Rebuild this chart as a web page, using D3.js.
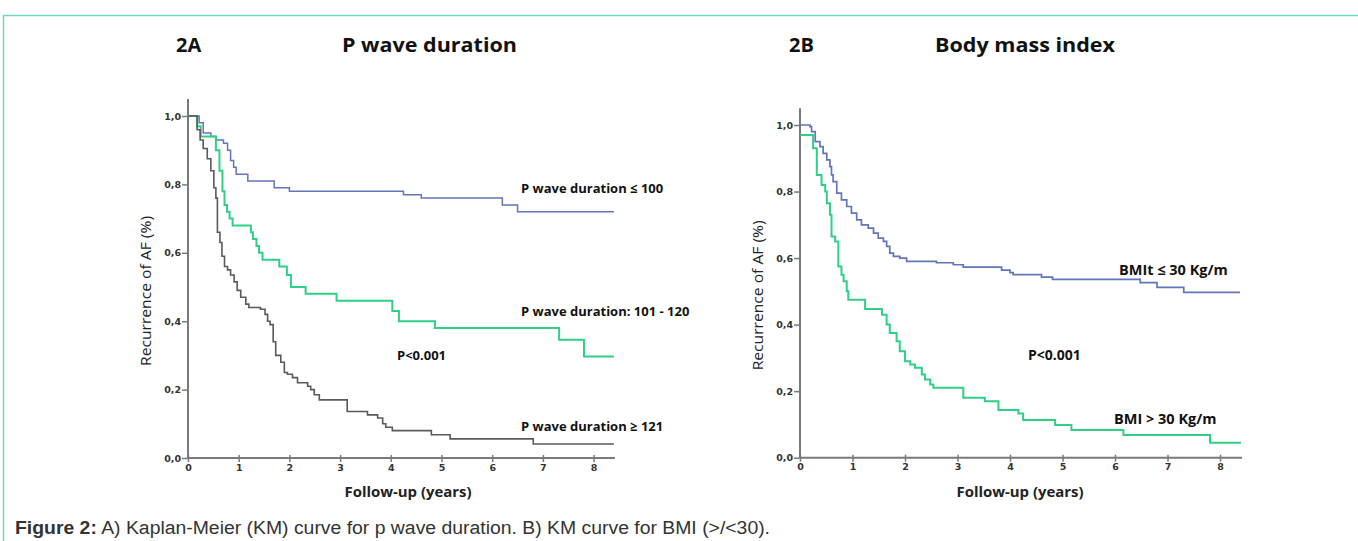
<!DOCTYPE html>
<html><head><meta charset="utf-8">
<script src="https://cdn.jsdelivr.net/npm/d3@7"></script>
<style>body{margin:0;background:#fff}svg{display:block}</style>
</head><body>
<svg id="c" width="1358" height="541"></svg>
<script>
// ---- Data ----
const yTicks = [0, 0.2, 0.4, 0.6, 0.8, 1.0];
const xTicks = [0, 1, 2, 3, 4, 5, 6, 7, 8];

// Panel A: P wave duration <= 100
const pShortT = [0, 0.22, 0.3, 0.45, 0.55, 0.7, 0.78, 0.84, 0.9, 0.95, 1.18, 1.7, 2.0, 4.25, 4.6, 6.2, 6.5, 8.4];
const pShortS = [1.0, 0.98, 0.95, 0.94, 0.93, 0.92, 0.90, 0.87, 0.85, 0.83, 0.81, 0.79, 0.78, 0.77, 0.76, 0.74, 0.72, 0.72];
// Panel A: P wave duration 101 - 120
const pMidT = [0, 0.18, 0.25, 0.55, 0.62, 0.68, 0.72, 0.77, 0.82, 0.88, 1.24, 1.28, 1.35, 1.4, 1.47, 1.8, 1.95, 2.03, 2.32, 2.93, 4.03, 4.16, 4.87, 7.32, 7.81, 8.4];
const pMidS = [1.0, 0.97, 0.94, 0.90, 0.84, 0.78, 0.74, 0.72, 0.70, 0.68, 0.66, 0.64, 0.62, 0.60, 0.58, 0.56, 0.535, 0.50, 0.48, 0.46, 0.43, 0.40, 0.38, 0.346, 0.297, 0.297];
// Panel A: P wave duration >= 121
const pLongT = [0, 0.18, 0.24, 0.3, 0.38, 0.45, 0.51, 0.55, 0.58, 0.63, 0.67, 0.72, 0.78, 0.84, 0.91, 0.97, 1.04, 1.14, 1.2, 1.43, 1.52, 1.57, 1.62, 1.68, 1.73, 1.83, 1.9, 1.96, 2.06, 2.16, 2.36, 2.42, 2.49, 2.59, 3.14, 3.54, 3.74, 3.84, 3.9, 4.03, 4.8, 5.17, 6.81, 8.4];
const pLongS = [1.0, 0.96, 0.93, 0.905, 0.875, 0.84, 0.79, 0.76, 0.66, 0.63, 0.59, 0.56, 0.55, 0.535, 0.515, 0.49, 0.47, 0.45, 0.44, 0.435, 0.42, 0.40, 0.39, 0.34, 0.30, 0.28, 0.25, 0.245, 0.235, 0.22, 0.21, 0.20, 0.185, 0.17, 0.136, 0.126, 0.117, 0.10, 0.09, 0.08, 0.068, 0.056, 0.041, 0.041];

// Panel B: BMI <= 30
const bLowT = [0, 0.19, 0.22, 0.29, 0.38, 0.44, 0.51, 0.57, 0.6, 0.63, 0.7, 0.79, 0.89, 0.98, 1.08, 1.17, 1.3, 1.4, 1.49, 1.59, 1.65, 1.71, 1.78, 1.9, 2.03, 2.6, 2.92, 3.11, 3.84, 4.0, 4.06, 4.6, 4.81, 6.48, 6.8, 7.31, 8.38];
const bLowS = [1.0, 0.995, 0.98, 0.95, 0.935, 0.915, 0.895, 0.875, 0.85, 0.83, 0.795, 0.775, 0.755, 0.735, 0.715, 0.70, 0.69, 0.675, 0.66, 0.65, 0.635, 0.615, 0.605, 0.60, 0.59, 0.586, 0.58, 0.573, 0.564, 0.556, 0.55, 0.543, 0.536, 0.526, 0.512, 0.497, 0.497];
// Panel B: BMI > 30
const bHighT = [0, 0.22, 0.25, 0.32, 0.41, 0.48, 0.51, 0.57, 0.6, 0.67, 0.73, 0.79, 0.83, 0.89, 0.92, 1.24, 1.56, 1.65, 1.71, 1.84, 1.9, 2.0, 2.1, 2.19, 2.32, 2.38, 2.48, 2.54, 3.11, 3.52, 3.78, 4.16, 4.25, 4.86, 5.17, 6.16, 7.81, 8.4];
const bHighS = [0.97, 0.97, 0.93, 0.85, 0.82, 0.80, 0.765, 0.73, 0.665, 0.65, 0.575, 0.55, 0.53, 0.50, 0.475, 0.447, 0.43, 0.40, 0.375, 0.35, 0.32, 0.29, 0.28, 0.27, 0.25, 0.235, 0.22, 0.21, 0.18, 0.17, 0.143, 0.133, 0.113, 0.098, 0.083, 0.068, 0.045, 0.045];

const svg = d3.select("#c");

// frame
svg.append("line").attr("x1", 3).attr("x2", 1358).attr("y1", 15.5).attr("y2", 15.5).attr("stroke", "#72d6c6").attr("stroke-width", 1.5);
svg.append("line").attr("x1", 3.5).attr("x2", 3.5).attr("y1", 15).attr("y2", 541).attr("stroke", "#72d6c6").attr("stroke-width", 1.5);

const commaFmt = d => d3.format(".1f")(d).replace(".", ",");

function panel(cfg) {
  const x = d3.scaleLinear().domain([0, 1]).range([cfg.x0, cfg.x0 + cfg.pxYear]);
  const y = d3.scaleLinear().domain([0, 1]).range([cfg.y0, cfg.y1]);
  const g = svg.append("g");
  const axisColor = "#7a7a7a";

  // y axis
  const ya = g.append("g").attr("transform", `translate(${cfg.x0},0)`)
    .call(d3.axisLeft(y).tickValues(yTicks).tickFormat(commaFmt).tickSize(6).tickSizeOuter(0));
  ya.select(".domain").remove();
  g.append("line").attr("x1", cfg.x0).attr("x2", cfg.x0).attr("y1", y(cfg.yTop)).attr("y2", y(0))
    .attr("stroke", axisColor).attr("stroke-width", 2);
  ya.selectAll(".tick line").attr("stroke", axisColor).attr("stroke-width", 1.5);
  ya.selectAll(".tick text").attr("font-family", "DejaVu Sans").attr("font-weight", "bold")
    .attr("font-size", 9.5).attr("fill", "#333").attr("x", -7);

  // x axis
  const xa = g.append("g").attr("transform", `translate(0,${cfg.y0})`)
    .call(d3.axisBottom(x).tickValues(xTicks).tickFormat(d3.format("d")).tickSize(6).tickSizeOuter(0));
  xa.select(".domain").remove();
  g.append("line").attr("x1", x(0)).attr("x2", x(cfg.xEnd)).attr("y1", cfg.y0).attr("y2", cfg.y0)
    .attr("stroke", axisColor).attr("stroke-width", 2);
  xa.selectAll(".tick line").attr("stroke", axisColor).attr("stroke-width", 1.5).attr("y1", -3).attr("y2", 4);
  xa.selectAll(".tick text").attr("font-family", "DejaVu Sans").attr("font-weight", "bold")
    .attr("font-size", 9.5).attr("fill", "#333").attr("y", 6);

  // curves
  const line = d3.line().x(d => x(d[0])).y(d => y(d[1])).curve(d3.curveStepAfter);
  cfg.series.forEach(s => {
    g.append("path").datum(d3.zip(s.t, s.s)).attr("d", line)
      .attr("fill", "none").attr("stroke", s.color).attr("stroke-width", s.w);
  });

  // titles
  g.append("text").attr("x", cfg.labX).attr("y", 52).text(cfg.tag)
    .attr("font-family", "Open Sans").attr("font-weight", "bold").attr("font-size", 20).attr("fill", "#111");
  g.append("text").attr("x", cfg.titleX).attr("y", 52).text(cfg.title)
    .attr("font-family", "Open Sans").attr("font-weight", "bold").attr("font-size", 20).attr("fill", "#111")
    .attr("textLength", cfg.titleW).attr("lengthAdjust", "spacingAndGlyphs");

  // axis titles
  g.append("text").attr("transform", `translate(${cfg.x0 - 37},${(y(1) + y(0)) / 2 + 4}) rotate(-90)`)
    .attr("text-anchor", "middle").text("Recurrence of AF (%)")
    .attr("font-family", "Open Sans").attr("font-size", 14.5).attr("fill", "#222")
    .attr("textLength", 150).attr("lengthAdjust", "spacingAndGlyphs");
  g.append("text").attr("x", cfg.xTitleX).attr("y", 497).attr("text-anchor", "middle").text("Follow-up (years)")
    .attr("font-family", "Open Sans").attr("font-weight", "bold").attr("font-size", 14).attr("fill", "#222")
    .attr("textLength", 127).attr("lengthAdjust", "spacingAndGlyphs");

  // annotations
  cfg.notes.forEach(n => {
    g.append("text").attr("x", n.x).attr("y", n.y).text(n.text)
      .attr("font-family", "Open Sans").attr("font-weight", "bold").attr("font-size", n.fs).attr("fill", "#111");
  });
}

panel({
  x0: 188, pxYear: 50.7, y0: 458, y1: 116, yTop: 1.05, xEnd: 8.42,
  tag: "2A", title: "P wave duration", titleW: 175, labX: 176, titleX: 342, xTitleX: 408,
  series: [
    {t: pShortT, s: pShortS, color: "#6275bd", w: 1.5},
    {t: pMidT, s: pMidS, color: "#2fcf86", w: 2},
    {t: pLongT, s: pLongS, color: "#5a5a5a", w: 1.6}
  ],
  notes: [
    {x: 521, y: 193, fs: 13, text: "P wave duration \u2264 100"},
    {x: 521, y: 316, fs: 13, text: "P wave duration: 101 - 120"},
    {x: 397, y: 360, fs: 13, text: "P<0.001"},
    {x: 521, y: 431, fs: 13, text: "P wave duration \u2265 121"}
  ]
});

panel({
  x0: 800, pxYear: 52.5, y0: 457.7, y1: 125, yTop: 1.05, xEnd: 8.42,
  tag: "2B", title: "Body mass index", titleW: 180, labX: 789, titleX: 935, xTitleX: 1020,
  series: [
    {t: bLowT, s: bLowS, color: "#6275bd", w: 1.7},
    {t: bHighT, s: bHighS, color: "#2fcf86", w: 2}
  ],
  notes: [
    {x: 1119, y: 275, fs: 14.5, text: "BMIt \u2264 30 Kg/m"},
    {x: 1028, y: 360, fs: 14, text: "P<0.001"},
    {x: 1114, y: 424, fs: 14.5, text: "BMI > 30 Kg/m"}
  ]
});

// caption
const cap = svg.append("text").attr("x", 15).attr("y", 534)
  .attr("font-family", "Liberation Sans, Arial, sans-serif").attr("font-size", 18).attr("fill", "#333")
  .attr("textLength", 755).attr("lengthAdjust", "spacingAndGlyphs");
cap.append("tspan").attr("font-weight", "bold").text("Figure 2:");
cap.append("tspan").text(" A) Kaplan-Meier (KM) curve for p wave duration. B) KM curve for BMI (>/<30).");
</script>
</body></html>
